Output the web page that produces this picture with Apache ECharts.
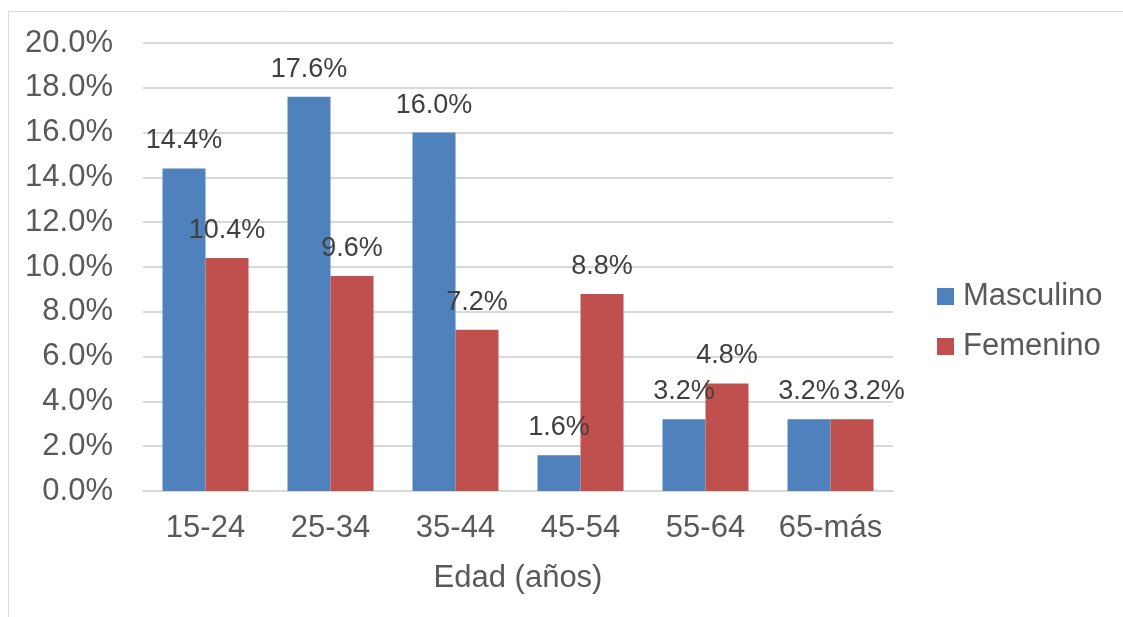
<!DOCTYPE html>
<html>
<head>
<meta charset="utf-8">
<script src="https://cdn.jsdelivr.net/npm/echarts@6/dist/echarts.min.js"></script>
<style>
  html, body { margin: 0; padding: 0; background: #fff; }
  #chart { width: 1123px; height: 617px; }
</style>
</head>
<body>
<div id="chart"></div>
<script>
const categories = ['15-24', '25-34', '35-44', '45-54', '55-64', '65-más'];
const masculino = [14.4, 17.6, 16.0, 1.6, 3.2, 3.2];
const femenino = [10.4, 9.6, 7.2, 8.8, 4.8, 3.2];

const chart = echarts.init(document.getElementById('chart'));
const font = '"Liberation Sans", Arial, sans-serif';

const labelStyle = {
  show: true,
  position: 'top',
  distance: 14,
  fontSize: 27,
  fontFamily: font,
  color: '#404040',
  formatter: (p) => p.value.toFixed(1) + '%'
};

// the last red label is pushed right so it doesn't sit on the blue one
const femData = femenino.map((v, i) =>
  i === femenino.length - 1 ? { value: v, label: { offset: [22, 0] } } : v
);

chart.setOption({
  backgroundColor: '#fff',
  animation: false,
  textStyle: { fontFamily: font },
  graphic: [{
    type: 'rect',
    shape: { x: 8.5, y: 11.5, width: 1130, height: 640 },
    style: { fill: 'none', stroke: '#d9d9d9', lineWidth: 1 },
    silent: true
  }],
  grid: { left: 143, right: 230, top: 43, bottom: 126 },
  legend: {
    orient: 'vertical',
    left: 932,
    top: 276,
    itemWidth: 17,
    itemHeight: 17,
    itemGap: 19,
    icon: 'rect',
    textStyle: { fontSize: 31, color: '#595959', fontFamily: font, padding: [0, 0, 0, 4] },
    data: ['Masculino', 'Femenino']
  },
  xAxis: {
    type: 'category',
    data: categories,
    name: 'Edad (años)',
    nameLocation: 'middle',
    nameGap: 72,
    nameTextStyle: { fontSize: 31, color: '#595959', fontFamily: font },
    axisLine: { lineStyle: { color: '#d9d9d9', width: 2 } },
    axisTick: { show: false },
    axisLabel: { interval: 0, fontSize: 31, color: '#595959', margin: 22, fontFamily: font }
  },
  yAxis: {
    type: 'value',
    min: 0,
    max: 20,
    interval: 2,
    axisLine: { show: false },
    axisTick: { show: false },
    splitLine: { lineStyle: { color: '#d9d9d9', width: 2 } },
    axisLabel: {
      fontSize: 31,
      color: '#595959',
      margin: 30,
      fontFamily: font,
      formatter: (v) => v.toFixed(1) + '%'
    }
  },
  series: [
    {
      name: 'Masculino',
      type: 'bar',
      data: masculino,
      barWidth: 43,
      barGap: '0%',
      itemStyle: { color: '#4f81bd' },
      label: labelStyle
    },
    {
      name: 'Femenino',
      type: 'bar',
      data: femData,
      barWidth: 43,
      barGap: '0%',
      itemStyle: { color: '#c0504d' },
      label: labelStyle
    }
  ]
});
</script>
</body>
</html>
